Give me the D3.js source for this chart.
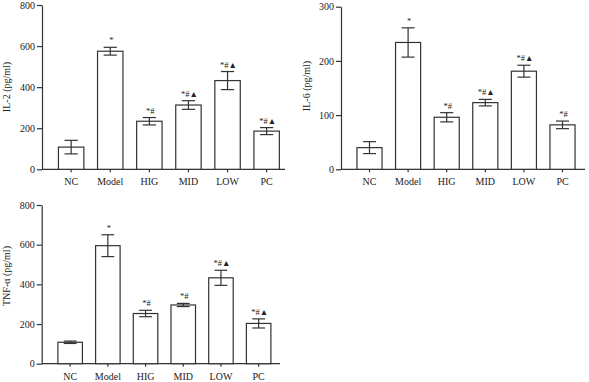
<!DOCTYPE html>
<html>
<head>
<meta charset="utf-8">
<script src="https://cdn.jsdelivr.net/npm/d3@7"></script>
<style>
  body { margin: 0; background: #fff; }
  svg { display: block; }
  text { font-family: "Liberation Serif", "DejaVu Serif", serif; fill: #222; }
</style>
</head>
<body>
<svg id="chart" width="589" height="382"></svg>
<script>
// groups
const categories = ["NC", "Model", "HIG", "MID", "LOW", "PC"];

// IL-2 (pg/ml)
const il2Mean = [108, 575, 234, 313, 432, 186];
const il2Err  = [33, 19, 18, 21, 44, 17];
const il2Sig  = ["", "*", "*#", "*#▲", "*#▲", "*#▲"];
const il2Ticks = [0, 200, 400, 600, 800];

// IL-6 (pg/ml)
const il6Mean = [40, 234, 96, 123, 181, 82];
const il6Err  = [11, 27, 8.5, 6, 11, 7];
const il6Sig  = ["", "*", "*#", "*#▲", "*#▲", "*#"];
const il6Ticks = [0, 100, 200, 300];

// TNF-a (pg/ml)
const tnfMean = [108, 595, 253, 296, 433, 203];
const tnfErr  = [6, 55, 16, 8, 38, 23];
const tnfSig  = ["", "*", "*#", "*#", "*#▲", "*#▲"];
const tnfTicks = [0, 200, 400, 600, 800];

const panels = [
  { label: "IL-2 (pg/ml)", mean: il2Mean, err: il2Err, sig: il2Sig, ticks: il2Ticks,
    axisX: 42, xr: [51.6, 286.2], xEnd: 285, yr: [169.3, 5], labelX: 10, labelY: 87 },
  { label: "IL-6 (pg/ml)", mean: il6Mean, err: il6Err, sig: il6Sig, ticks: il6Ticks,
    axisX: 341, xr: [350.2, 581.8], xEnd: 585, yr: [169.3, 6.7], labelX: 310, labelY: 86 },
  { label: "TNF-α (pg/ml)", mean: tnfMean, err: tnfErr, sig: tnfSig, ticks: tnfTicks,
    axisX: 41.7, xr: [51.3, 277.5], xEnd: 280, yr: [363.7, 205], labelX: 9.5, labelY: 276 }
];

const svg = d3.select("#chart");
const ink = "#333";

panels.forEach(p => {
  const g = svg.append("g");

  const x = d3.scaleBand()
      .domain(categories)
      .range(p.xr)
      .paddingInner(0.35)
      .paddingOuter(0.175);

  const y = d3.scaleLinear()
      .domain([0, d3.max(p.ticks)])
      .range(p.yr);

  // y axis
  const yAxis = g.append("g")
      .attr("transform", `translate(${p.axisX},0)`)
      .call(d3.axisLeft(y).tickValues(p.ticks).tickSize(5).tickPadding(2).tickSizeOuter(0));
  yAxis.select(".domain").attr("stroke", ink).attr("stroke-width", 1.2);
  yAxis.selectAll(".tick line").attr("stroke", ink).attr("stroke-width", 1.2);
  yAxis.selectAll(".tick text").attr("font-size", 10).attr("fill", "#222")
      .attr("font-family", "Liberation Serif, DejaVu Serif, serif");

  // x axis
  const xAxis = g.append("g")
      .attr("transform", `translate(0,${p.yr[0]})`)
      .call(d3.axisBottom(x).tickSize(3).tickPadding(6).tickSizeOuter(0));
  xAxis.select(".domain").attr("d", `M${p.axisX},0H${p.xEnd}`)
      .attr("stroke", ink).attr("stroke-width", 1.2);
  xAxis.selectAll(".tick line").attr("stroke", ink).attr("stroke-width", 1.2);
  xAxis.selectAll(".tick text").attr("font-size", 10).attr("fill", "#222")
      .attr("font-family", "Liberation Serif, DejaVu Serif, serif");

  const rows = categories.map((c, i) => ({ c: c, m: p.mean[i], e: p.err[i], s: p.sig[i] }));

  // bars
  g.selectAll("rect.bar")
    .data(rows)
    .join("rect")
      .attr("class", "bar")
      .attr("x", d => x(d.c))
      .attr("y", d => y(d.m))
      .attr("width", x.bandwidth())
      .attr("height", d => y(0) - y(d.m))
      .attr("fill", "#fff")
      .attr("stroke", ink)
      .attr("stroke-width", 1.2);

  // error bars
  const cap = x.bandwidth() * 0.26;
  const eb = g.selectAll("g.err")
    .data(rows)
    .join("g")
      .attr("class", "err")
      .attr("stroke", ink)
      .attr("stroke-width", 1.2);
  eb.append("line")
      .attr("x1", d => x(d.c) + x.bandwidth() / 2)
      .attr("x2", d => x(d.c) + x.bandwidth() / 2)
      .attr("y1", d => y(d.m + d.e))
      .attr("y2", d => y(d.m - d.e));
  eb.append("line")
      .attr("x1", d => x(d.c) + x.bandwidth() / 2 - cap)
      .attr("x2", d => x(d.c) + x.bandwidth() / 2 + cap)
      .attr("y1", d => y(d.m + d.e))
      .attr("y2", d => y(d.m + d.e));
  eb.append("line")
      .attr("x1", d => x(d.c) + x.bandwidth() / 2 - cap)
      .attr("x2", d => x(d.c) + x.bandwidth() / 2 + cap)
      .attr("y1", d => y(d.m - d.e))
      .attr("y2", d => y(d.m - d.e));

  // significance marks
  g.selectAll("text.sig")
    .data(rows.filter(d => d.s))
    .join("text")
      .attr("class", "sig")
      .attr("x", d => x(d.c) + x.bandwidth() / 2 + 1)
      .attr("y", d => y(d.m + d.e) - 4)
      .attr("text-anchor", "middle")
      .attr("font-size", 8.5)
      .text(d => d.s);

  // y label
  g.append("text")
      .attr("transform", `translate(${p.labelX},${p.labelY}) rotate(-90)`)
      .attr("text-anchor", "middle")
      .attr("font-size", 10)
      .text(p.label);
});
</script>
</body>
</html>
